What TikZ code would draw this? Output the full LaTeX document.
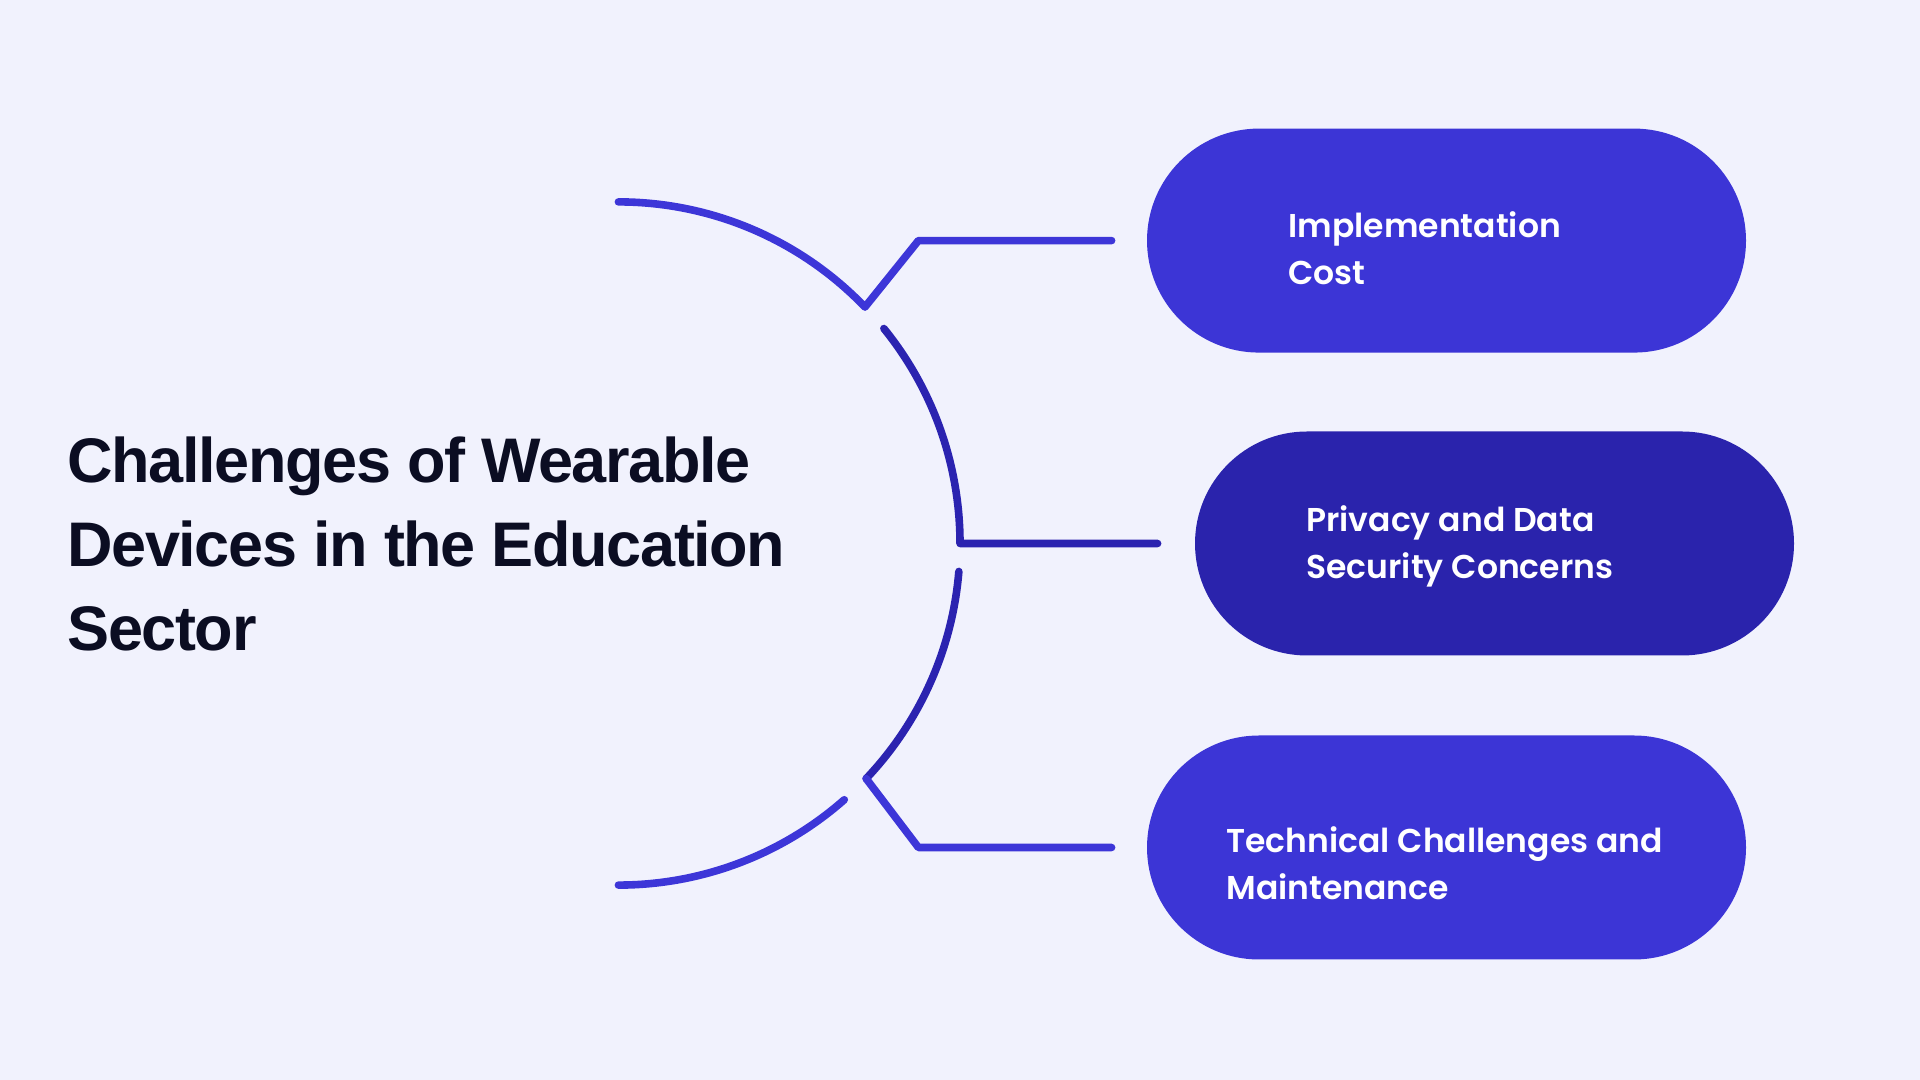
\documentclass[tikz,border=0pt]{standalone}
\usepackage{fontspec}
\setmainfont{Liberation Sans}
\newfontfamily\titlefont{Liberation Sans}[LetterSpace=-2.2]
\IfFontExistsTF{Poppins SemiBold}
  {\newfontfamily\boxfont{Poppins SemiBold}\newcommand\boxweight{}}
  {\newfontfamily\boxfont{Poppins}\newcommand\boxweight{\bfseries}}
\usetikzlibrary{calc}
\definecolor{bg}{HTML}{F1F2FD}
\definecolor{boxA}{HTML}{3C35D6}
\definecolor{boxB}{HTML}{2A23AC}
\definecolor{lineA}{HTML}{3D36D8}
\definecolor{lineB}{HTML}{2B23B0}
\definecolor{titlec}{HTML}{0B0D22}
\begin{document}
\begin{tikzpicture}[x=0.5pt,y=0.5pt,
  pill/.style={rounded corners=56pt, minimum width=299.5pt, minimum height=112pt, inner sep=0pt, draw=none},
  conn/.style={line width=3.8pt, line cap=round, line join=round},
  boxlabel/.style={text=white, font=\boxfont\boxweight\fontsize{16.5pt}{23.75pt}\selectfont, align=left, anchor=west, inner sep=0pt},
  titlestyle/.style={text=titlec, font=\titlefont\bfseries\fontsize{31.5pt}{42pt}\selectfont, align=left, anchor=west, inner sep=0pt}]
\fill[bg] (0,0) rectangle (1920,1080);
\useasboundingbox (0,0) rectangle (1920,1080);
\def\R{170.8pt}
\coordinate (C) at (618.4,536.5);
% boxes
\node[pill, fill=boxA] (b1) at (1446.5,839.4) {};
\node[pill, fill=boxB] (b2) at (1494.5,536.5) {};
\node[pill, fill=boxA] (b3) at (1446.5,232.5) {};
\node[boxlabel] (t1) at (1288,831.7) {Implementation\\Cost};
\node[boxlabel] (t2) at (1306,533.7) {Privacy and Data\\Security Concerns};
\node[boxlabel] (t3) at (1226,216.7) {Technical Challenges and\\Maintenance};
% title
\node[titlestyle] (title) at (67,536.5) {Challenges of Wearable\\Devices in the Education\\Sector};
% connector points
\coordinate (e1) at (918.4,0 |- b1.center);
\coordinate (e3) at (918.4,0 |- b3.center);
\coordinate (h1) at ($(b1.west)+(-35,0)$);
\coordinate (h2) at ($(b2.west)+(-37,0)$);
\coordinate (h3) at ($(b3.west)+(-35,0)$);
\coordinate (v3) at ($(C)+(-43.5:\R)$);
% arcs and connectors
\draw[conn, lineA] ($(C)+(90:\R)$) arc[start angle=90, end angle=43.8, radius=\R] -- (e1) -- (h1);
\draw[conn, lineB] ($(C)+(39:\R)$) arc[start angle=39, end angle=0, radius=\R] -- (h2);
\draw[conn, lineB] ($(C)+(-4.7:\R)$) arc[start angle=-4.7, end angle=-43.5, radius=\R];
\draw[conn, lineA] (v3) -- (e3) -- (h3);
\draw[conn, lineA] ($(C)+(-48.6:\R)$) arc[start angle=-48.6, end angle=-90, radius=\R];
\end{tikzpicture}
\end{document}
